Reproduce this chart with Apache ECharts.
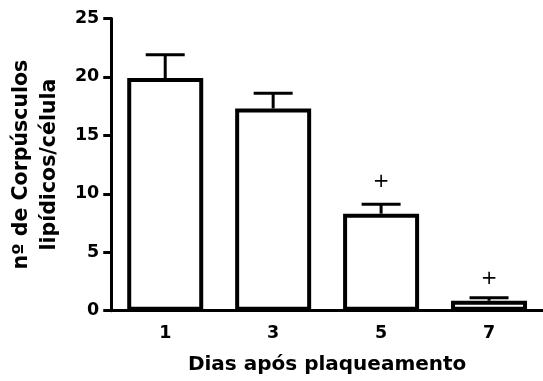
<!DOCTYPE html>
<html>
<head>
<meta charset="utf-8">
<script src="https://cdn.jsdelivr.net/npm/echarts@6/dist/echarts.min.js"></script>
<style>
  html, body { margin: 0; padding: 0; background: #fff; }
  #chart { width: 543px; height: 381px; }
</style>
</head>
<body>
<div id="chart"></div>
<script>
// Days after plating
const days = ['1', '3', '5', '7'];
// Mean lipid bodies per cell
const means = [19.9, 17.3, 8.3, 0.85];
// Standard error of the mean (upper whisker only)
const sems = [2.0, 1.3, 0.8, 0.25];
// Height at which the significance "+" sits (null = none)
const sigMarks = [null, null, 11.0, 2.7];
// Y tick range
const yTicks = { min: 0, max: 25, step: 5 };

const FONT = '"DejaVu Sans", sans-serif';

const errorData = days.map((d, i) => [i, means[i], means[i] + sems[i]]);
const sigData = days.map((d, i) => [i, sigMarks[i]]).filter(p => p[1] !== null);

const chart = echarts.init(document.getElementById('chart'), null, { renderer: 'canvas' });

chart.setOption({
  animation: false,
  backgroundColor: '#fff',
  grid: { left: 109, top: 18.5, width: 436, height: 292.2, containLabel: false },
  xAxis: {
    type: 'category',
    data: days,
    name: 'Dias após plaqueamento',
    nameLocation: 'middle',
    nameGap: 44,
    nameTextStyle: { fontFamily: FONT, fontWeight: 'bold', fontSize: 20, color: '#000' },
    axisLine: { lineStyle: { color: '#000', width: 3 } },
    axisTick: { alignWithLabel: true, length: 8, lineStyle: { color: '#000', width: 3 } },
    axisLabel: { margin: 14, fontFamily: FONT, fontWeight: 'bold', fontSize: 17.5, color: '#000' },
    splitLine: { show: false }
  },
  yAxis: {
    type: 'value',
    min: yTicks.min,
    max: yTicks.max,
    interval: yTicks.step,
    name: 'nº de Corpúsculos\nlipídicos/célula',
    nameLocation: 'middle',
    nameGap: 40,
    nameTextStyle: { fontFamily: FONT, fontWeight: 'bold', fontSize: 20.5, lineHeight: 28, color: '#000' },
    axisLine: { show: true, lineStyle: { color: '#000', width: 3 } },
    axisTick: { show: true, length: 8, lineStyle: { color: '#000', width: 3 } },
    axisLabel: { margin: 12, fontFamily: FONT, fontWeight: 'bold', fontSize: 17.5, color: '#000' },
    splitLine: { show: false }
  },
  series: [
    {
      type: 'bar',
      data: means,
      barWidth: 76,
      itemStyle: { color: '#fff', borderColor: '#000', borderWidth: 4 },
      z: 2
    },
    {
      type: 'custom',
      data: errorData,
      z: 3,
      renderItem: function (params, api) {
        const i = api.value(0);
        const base = api.coord([i, api.value(1)]);
        const top = api.coord([i, api.value(2)]);
        const half = 19.5;
        const style = { stroke: '#000', lineWidth: 3 };
        return {
          type: 'group',
          children: [
            { type: 'line', shape: { x1: top[0], y1: base[1], x2: top[0], y2: top[1] }, style: style },
            { type: 'line', shape: { x1: top[0] - half, y1: top[1], x2: top[0] + half, y2: top[1] }, style: style }
          ]
        };
      }
    },
    {
      type: 'custom',
      data: sigData,
      z: 3,
      renderItem: function (params, api) {
        const p = api.coord([api.value(0), api.value(1)]);
        return {
          type: 'text',
          x: p[0],
          y: p[1],
          style: {
            text: '+',
            font: '20px ' + FONT,
            fill: '#000',
            align: 'center',
            verticalAlign: 'middle'
          }
        };
      }
    }
  ]
});
</script>
</body>
</html>
